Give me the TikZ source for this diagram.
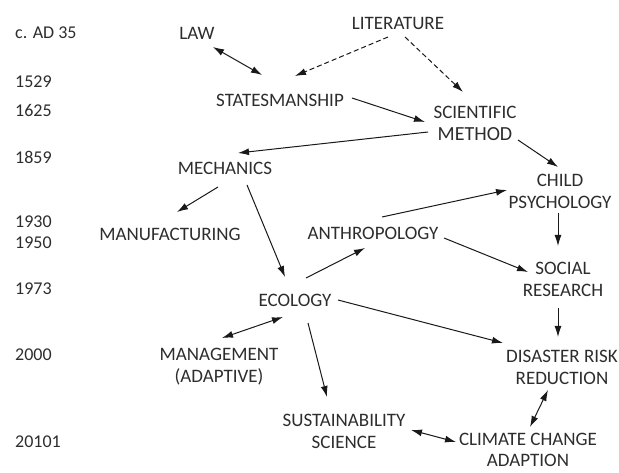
\documentclass[tikz,border=0pt]{standalone}
\usepackage{fontspec}
\setmainfont{Carlito}
\usepackage{tikz}
\usetikzlibrary{arrows.meta}
\definecolor{mydark}{RGB}{25,25,25}
\definecolor{mytext}{RGB}{45,45,45}
\tikzset{
  field/.style={font=\fontsize{19}{22}\selectfont, text=mytext, align=center, inner sep=2pt},
  year/.style={font=\fontsize{18}{22}\selectfont, text=mytext, anchor=west, inner sep=0pt},
  arrow/.style={-{Latex[length=11pt,width=7pt]}, line width=1pt, color=mydark},
  twoway/.style={{Latex[length=11pt,width=7pt]}-{Latex[length=11pt,width=7pt]}, line width=1pt, color=mydark},
  dasharrow/.style={arrow, dash pattern=on 5pt off 3pt}
}
\begin{document}
\begin{tikzpicture}[x=1pt, y=-1pt]
  \useasboundingbox (0,0) rectangle (619,473);
  % time line
  \node[year] (y35)   at (15,33)  {c. AD 35};
  \node[year] (y1529) at (15,82)  {1529};
  \node[year] (y1625) at (15,110) {1625};
  \node[year] (y1859) at (15,157) {1859};
  \node[year] (y1930) at (15,222) {1930};
  \node[year] (y1950) at (15,243) {1950};
  \node[year] (y1973) at (15,289) {1973};
  \node[year] (y2000) at (15,355) {2000};
  \node[year] (y2010) at (15,442) {20101};
  % fields
  \node[field] (law)    at (197,33)  {LAW};
  \node[field] (lit)    at (398,23)  {LITERATURE};
  \node[field] (states) at (280,100) {STATESMANSHIP};
  \node[field] (sci)    at (475,123) {SCIENTIFIC\\{\fontsize{20}{22}\selectfont METHOD}};
  \node[field] (mech)   at (225,168) {MECHANICS};
  \node[field] (child)  at (560,191) {CHILD\\PSYCHOLOGY};
  \node[field] (manuf)  at (170,234) {MANUFACTURING};
  \node[field] (anthro) at (373,233) {ANTHROPOLOGY};
  \node[field] (social) at (563,279) {SOCIAL\\RESEARCH};
  \node[field] (eco)    at (295,300) {ECOLOGY};
  \node[field] (mgmt)   at (219,367) {MANAGEMENT\\(ADAPTIVE)};
  \node[field] (drr)    at (562,367) {DISASTER RISK\\REDUCTION};
  \node[field] (sust)   at (344,431) {SUSTAINABILITY\\SCIENCE};
  \node[field, font=\fontsize{19}{21}\selectfont] (cca) at (528,450) {CLIMATE CHANGE\\ADAPTION};
  % links
  \draw[twoway] ([shift={(16,14)}]law.center) -- ([shift={(-18,-25)}]states.center);
  \draw[dasharrow] ([shift={(-10,14)}]lit.center) -- ([shift={(15,-24)}]states.center);
  \draw[dasharrow] ([shift={(7,14)}]lit.center) -- ([shift={(-12,-31)}]sci.center);
  \draw[arrow] ([shift={(72,-2)}]states.center) -- ([shift={(-50,-1)}]sci.center);
  \draw[arrow] ([shift={(-47,9)}]sci.center) -- ([shift={(13,-15)}]mech.center);
  \draw[arrow] ([shift={(43,17)}]sci.center) -- ([shift={(-2,-24)}]child.center);
  \draw[arrow] ([shift={(-7,19)}]mech.center) -- ([shift={(7,-22)}]manuf.center);
  \draw[arrow] ([shift={(22,17)}]mech.center) -- ([shift={(-10,-23)}]eco.center);
  \draw[arrow] ([shift={(11,-22)}]eco.center) -- ([shift={(-8,15)}]anthro.center);
  \draw[arrow] ([shift={(9,-16)}]anthro.center) -- ([shift={(-53,-1)}]child.center);
  \draw[arrow] ([shift={(-2,22)}]child.center) -- ([shift={(-5,-33)}]social.center);
  \draw[arrow] ([shift={(71,5)}]anthro.center) -- ([shift={(-35,-7)}]social.center);
  \draw[arrow] ([shift={(-5,29)}]social.center) -- ([shift={(-4,-30)}]drr.center);
  \draw[arrow] ([shift={(43,0)}]eco.center) -- ([shift={(-59,-24)}]drr.center);
  \draw[twoway] ([shift={(-12,17)}]eco.center) -- ([shift={(3,-29)}]mgmt.center);
  \draw[arrow] ([shift={(13,23)}]eco.center) -- ([shift={(-17,-34)}]sust.center);
  \draw[twoway] ([shift={(-14,23)}]drr.center) -- ([shift={(2,-23)}]cca.center);
  \draw[twoway] ([shift={(67,-1)}]sust.center) -- ([shift={(-72,-8)}]cca.center);
\end{tikzpicture}
\end{document}
